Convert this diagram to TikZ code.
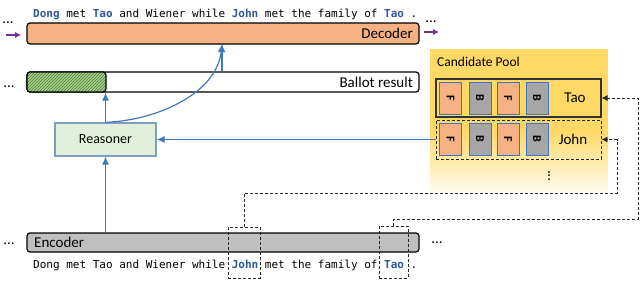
\documentclass[tikz,border=0pt]{standalone}
\usepackage{fontspec}
\setmainfont{Carlito}
\setmonofont{DejaVu Sans Mono}
\usetikzlibrary{arrows.meta,patterns}
\definecolor{decfill}{HTML}{F4B183}
\definecolor{encfill}{HTML}{BFBFBF}
\definecolor{reafill}{HTML}{E2EFDA}
\definecolor{reaborder}{HTML}{7F9DC3}
\definecolor{hatchfill}{HTML}{A9D18E}
\definecolor{hatchline}{HTML}{4E7A32}
\definecolor{bluearr}{HTML}{4178BE}
\definecolor{wordblue}{HTML}{2F5597}
\definecolor{purp}{HTML}{7030A0}
\definecolor{pool}{HTML}{FFD966}
\definecolor{cellblue}{HTML}{4472C4}
\definecolor{cellgray}{HTML}{A6A6A6}
\newcommand{\cw}{6.622}
\begin{document}
\begin{tikzpicture}[x=1pt,y=-1pt,
  bar/.style={draw=black, line width=1.2pt, rounded corners=3pt, minimum width=392pt, inner sep=0pt},
  mono/.style={font=\fontsize{11}{13}\ttfamily, anchor=base west, inner sep=0pt},
  bw/.style={mono, text=wordblue, font=\fontsize{11}{13}\ttfamily\bfseries},
  lbl/.style={font=\fontsize{15}{18}\selectfont, inner sep=0pt},
  dots/.style={font=\fontsize{15}{18}\selectfont, inner sep=0pt},
  blueline/.style={draw=bluearr, line width=1.2pt},
  bluearrow/.style={blueline, -{Latex[length=8pt,width=7pt]}},
  purparrow/.style={draw=purp, line width=1.8pt, -{Latex[length=6pt,width=6.5pt]}},
  dashline/.style={draw=black!85, line width=0.9pt, dash pattern=on 3pt off 2pt},
  dasharrow/.style={dashline, -{Latex[length=6pt,width=6pt]}},
  cell/.style={draw=cellblue, line width=0.9pt, minimum width=22pt, minimum height=32pt, inner sep=0pt, font=\fontsize{12}{12}\selectfont\bfseries},
  rowbox/.style={minimum width=165pt, inner sep=0pt},
  wordbox/.style={dashline, inner sep=0pt}
]
\useasboundingbox (0,0) rectangle (640,281);

% top sentence
\node[bw]   (t1) at (33+0*\cw,17) {Dong};
\node[mono] (t2) at (33+5*\cw,17) {met};
\node[bw]   (t3) at (33+9*\cw,17) {Tao};
\node[mono] (t4) at (33+13*\cw,17) {and Wiener while};
\node[bw]   (t5) at (33+30*\cw,17) {John};
\node[mono] (t6) at (33+35*\cw,17) {met the family of};
\node[bw]   (t7) at (33+53*\cw,17) {Tao};
\node[mono] (t8) at (33+57*\cw,17) {.};

% decoder
\node[bar, fill=decfill, minimum height=21pt] (dec) at (223,33.5) {};
\node[lbl, anchor=east] (declbl) at (413,33.5) {Decoder};
\node[dots] (dl) at (8,23) {...};
\node[dots] (dr) at (431,22) {...};
\coordinate (pl0) at (6,35);
\coordinate (pl1) at (21,35);
\coordinate (pr0) at (424,32);
\coordinate (pr1) at (439,32);
\draw[purparrow] (pl0) -- (pl1);
\draw[purparrow] (pr0) -- (pr1);

% ballot result
\node[bar, fill=white, minimum height=20pt] (bal) at (223,82) {};
\node[draw=black, line width=1.2pt, rounded corners=3pt, minimum width=79pt, minimum height=20pt, inner sep=0pt,
      preaction={fill=hatchfill}, pattern=north east lines, pattern color=hatchline] (balg) at (66.5,82) {};
\node[lbl, anchor=east] (ballbl) at (413,82) {Ballot result};
\node[dots] (bld) at (9,87) {...};

% reasoner
\node[draw=reaborder, line width=1.2pt, fill=reafill, minimum width=101pt, minimum height=33pt, inner sep=0pt,
      font=\fontsize{14}{16}\selectfont] (rea) at (105.5,139.5) {Reasoner};

% candidate pool
\fill[pool] (430,49) rectangle (608,131);
\shade[top color=pool, bottom color=pool!12, shading angle=0] (430,130) rectangle (608,191);
\node[font=\fontsize{13.5}{16}\selectfont, anchor=west, inner sep=0pt] (pooltitle) at (437,62) {Candidate Pool};
\node[rowbox, draw=black!80, line width=1.1pt, minimum height=38pt] (trow) at (518.5,98) {};
\node[rowbox, dashline, minimum height=39pt] (jrow) at (518.5,139.5) {};
\node[cell, fill=decfill]  (tc1) at (450.5,98) {\rotatebox{-90}{F}};
\node[cell, fill=cellgray] (tc2) at (480,98) {\rotatebox{-90}{B}};
\node[cell, fill=decfill]  (tc3) at (508,98) {\rotatebox{-90}{F}};
\node[cell, fill=cellgray] (tc4) at (537,98) {\rotatebox{-90}{B}};
\node[cell, fill=decfill]  (jc1) at (450.5,139) {\rotatebox{-90}{F}};
\node[cell, fill=cellgray] (jc2) at (480,139) {\rotatebox{-90}{B}};
\node[cell, fill=decfill]  (jc3) at (508,139) {\rotatebox{-90}{F}};
\node[cell, fill=cellgray] (jc4) at (537,139) {\rotatebox{-90}{B}};
\node[lbl] (tlbl) at (575,98) {Tao};
\node[lbl] (jlbl) at (573,139) {John};
\node[dots] (vd) at (549,176) {\rotatebox{90}{...}};

% encoder
\node[bar, fill=encfill, minimum height=19pt] (enc) at (223,242.5) {};
\node[lbl, anchor=west] (enclbl) at (34,242.5) {Encoder};
\node[dots] (eld) at (9,244) {...};
\node[dots] (erd) at (437,243) {...};

% bottom sentence
\node[mono] (b1) at (33+0*\cw,268) {Dong met Tao and Wiener while};
\node[bw]   (b2) at (33+30*\cw,268) {John};
\node[mono] (b3) at (33+35*\cw,268) {met the family of};
\node[bw]   (b4) at (33+53*\cw,268) {Tao};
\node[mono] (b5) at (33+57*\cw,268) {.};

% dashed word boxes
\node[wordbox, minimum width=32pt, minimum height=51pt] (jbox) at (244,252.5) {};
\node[wordbox, minimum width=29pt, minimum height=52pt] (tbox) at (393.5,252) {};

% blue connectors
\coordinate (decin) at (222,44);
\draw[bluearrow] (rea.south |- enc.north) -- (rea.south);
\draw[bluearrow] (rea.north) -- (rea.north |- bal.south);
\draw[bluearrow] (decin |- bal.north) -- (decin);
\draw[bluearrow] (rea.north) .. controls (160,120) and (217,92) .. (decin);
\draw[bluearrow] (jrow.west) -- (rea.east);

% dashed connectors
\coordinate (jturn) at (617,193);
\coordinate (tturn) at (638,219);
\draw[dasharrow] (jbox.north) |- (jturn) |- (jrow.east);
\draw[dasharrow] (tbox.north) |- (tturn) |- (trow.east);
\end{tikzpicture}
\end{document}
